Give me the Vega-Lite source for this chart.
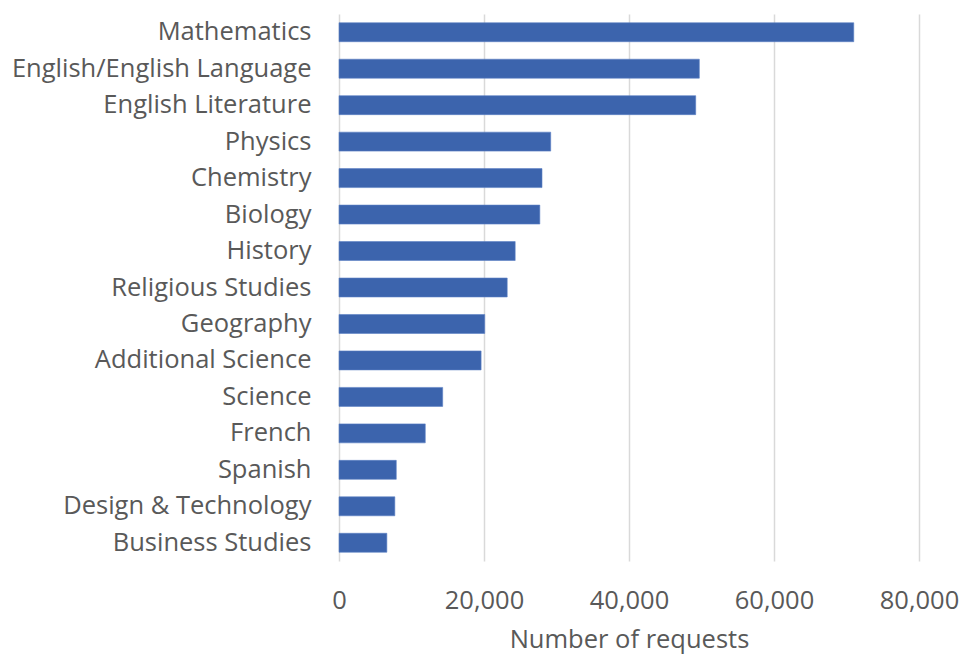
{
  "$schema": "https://vega.github.io/schema/vega-lite/v6.json",
  "width": 580,
  "height": 547,
  "autosize": {"type": "none"},
  "padding": {"left": 339, "top": 14, "right": 41, "bottom": 95},
  "background": "white",
  "config": {
    "view": {"stroke": null},
    "font": "Open Sans",
    "axis": {"labelFont": "Open Sans", "titleFont": "Open Sans"}
  },
  "data": {
    "values": [
      {"subject": "Mathematics", "requests": 71000},
      {"subject": "English/English Language", "requests": 49700},
      {"subject": "English Literature", "requests": 49200},
      {"subject": "Physics", "requests": 29200},
      {"subject": "Chemistry", "requests": 28000},
      {"subject": "Biology", "requests": 27700},
      {"subject": "History", "requests": 24300},
      {"subject": "Religious Studies", "requests": 23200},
      {"subject": "Geography", "requests": 20100},
      {"subject": "Additional Science", "requests": 19600},
      {"subject": "Science", "requests": 14300},
      {"subject": "French", "requests": 11900},
      {"subject": "Spanish", "requests": 7900},
      {"subject": "Design & Technology", "requests": 7700},
      {"subject": "Business Studies", "requests": 6600}
    ]
  },
  "mark": {"type": "bar", "color": "#3c64ad", "stroke": "#5a80c4", "strokeWidth": 0.6},
  "encoding": {
    "y": {
      "field": "subject",
      "type": "nominal",
      "sort": null,
      "scale": {"paddingInner": 0.48, "paddingOuter": 0.24},
      "axis": {
        "title": null,
        "ticks": false,
        "domain": false,
        "grid": false,
        "labelFontSize": 25.5,
        "labelColor": "#595959",
        "labelPadding": 28,
        "labelLimit": 400
      }
    },
    "x": {
      "field": "requests",
      "type": "quantitative",
      "scale": {"domain": [0, 80000], "nice": false},
      "axis": {
        "values": [0, 20000, 40000, 60000, 80000],
        "format": ",d",
        "title": "Number of requests",
        "titleFontSize": 25.5,
        "titleFontWeight": "normal",
        "titleColor": "#595959",
        "titlePadding": 14,
        "labelFontSize": 25.5,
        "labelColor": "#595959",
        "labelPadding": 27,
        "labelFlush": false,
        "ticks": false,
        "domain": false,
        "grid": true,
        "gridColor": "#d9d9d9",
        "gridWidth": 1.5
      }
    }
  }
}
